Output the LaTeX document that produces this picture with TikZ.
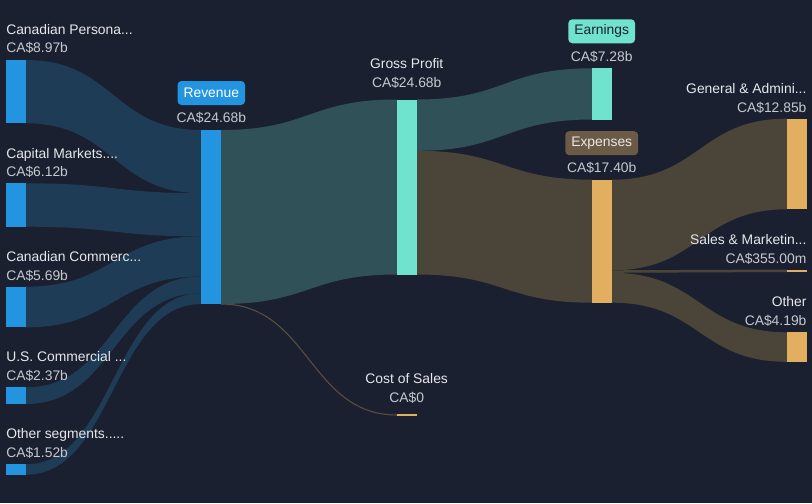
\documentclass[tikz,border=0pt]{standalone}
\usepackage{fontspec}
\setmainfont{Liberation Sans}
\definecolor{bg}{HTML}{1B2030}
\definecolor{bluebar}{HTML}{2394DF}
\definecolor{lflow}{HTML}{1E3C55}
\definecolor{gflow}{HTML}{2F5157}
\definecolor{eflow}{HTML}{4B4539}
\definecolor{tealbar}{HTML}{6FE3CE}
\definecolor{orangebar}{HTML}{E2AE5F}
\definecolor{expbox}{HTML}{6B5A45}
\definecolor{nametext}{HTML}{E6E8EB}
\definecolor{valtext}{HTML}{C5C9CF}
\definecolor{costline}{HTML}{5A4E3E}
\newcommand\sflow[7]{%
  \fill[#7] (#1,#2) .. controls ({(#1+#4)/2},#2) and ({(#1+#4)/2},#5) .. (#4,#5)
    -- (#4,#6) .. controls ({(#1+#4)/2},#6) and ({(#1+#4)/2},#3) .. (#1,#3) -- cycle;}
\newcommand\sbar[5]{%
  \node[fill=#5, inner sep=0pt, outer sep=0pt, minimum width=15pt,
        minimum height={(#4-#3)*0.75pt}, anchor=north west] (#1) at (#2,#3) {};}
\begin{document}
\begin{tikzpicture}[x=0.75pt,y=-0.75pt, font=\fontsize{10.4}{12.5}\selectfont,
  lname/.style={text=nametext, inner sep=0pt},
  lval/.style={text=valtext, inner sep=0pt},
  tagbox/.style={rounded corners=3pt, inner xsep=4.5pt, inner ysep=0pt, minimum height=18pt}]
\fill[bg] (0,0) rectangle (812,503);
\useasboundingbox (0,0) rectangle (812,503);

% flows into revenue
\sflow{26}{60}{123.3}{201}{130}{193.2}{lflow}
\sflow{26}{183.3}{226.7}{201}{193.2}{236.4}{lflow}
\sflow{26}{286.7}{327.3}{201}{236.4}{276.5}{lflow}
\sflow{26}{387.3}{404}{201}{276.5}{293.2}{lflow}
\sflow{26}{464.3}{474.7}{201}{293.2}{304}{lflow}
% revenue -> gross profit
\sflow{221}{130}{304}{397}{99.5}{274.5}{gflow}
% gross profit -> earnings / expenses
\sflow{417}{99.5}{150.8}{592}{68.3}{119.5}{gflow}
\sflow{417}{150.8}{274.5}{592}{179.7}{302.7}{eflow}
% expenses -> right
\sflow{612}{179.7}{270.3}{787}{118.7}{209.3}{eflow}
\sflow{612}{270.3}{272.8}{787}{269.5}{272}{eflow}
\sflow{612}{272.8}{302.7}{787}{332.3}{361.8}{eflow}

% bars
\sbar{cp}{6}{60}{123.3}{bluebar}
\sbar{cm}{6}{183.3}{226.7}{bluebar}
\sbar{cc}{6}{286.7}{327.3}{bluebar}
\sbar{usc}{6}{387.3}{404}{bluebar}
\sbar{os}{6}{464.3}{474.7}{bluebar}
\sbar{rev}{201}{130}{304}{bluebar}
\sbar{gp}{397}{99.5}{274.5}{tealbar}
\sbar{earn}{592}{68.3}{119.5}{tealbar}
\sbar{exp}{592}{179.7}{302.7}{orangebar}
\sbar{ga}{787}{118.7}{209.3}{orangebar}
\sbar{sm}{787}{269.5}{272}{orangebar}
\sbar{oth}{787}{332.3}{361.8}{orangebar}
\coordinate (cos) at (397,415);
\coordinate (cosend) at (417,415);

% cost of sales connector
\draw[costline, line width=0.8pt] (rev.south east) .. controls (309,304) and (309,415) .. (cos);
\draw[orangebar, line width=0.8pt] (cos) -- (cosend);

% left labels
\node[lname, anchor=base west] (l1) at (6,34.5) {Canadian Persona...};
\node[lval, anchor=base west] (v1) at (6,53) {CA\$8.97b};
\node[lname, anchor=base west] (l2) at (6,158) {Capital Markets....};
\node[lval, anchor=base west] (v2) at (6,176.5) {CA\$6.12b};
\node[lname, anchor=base west] (l3) at (6,261.3) {Canadian Commerc...};
\node[lval, anchor=base west] (v3) at (6,280) {CA\$5.69b};
\node[lname, anchor=base west] (l4) at (6,361.8) {U.S. Commercial ...};
\node[lval, anchor=base west] (v4) at (6,380.5) {CA\$2.37b};
\node[lname, anchor=base west] (l5) at (6,438.5) {Other segments.....};
\node[lval, anchor=base west] (v5) at (6,457.3) {CA\$1.52b};

% revenue
\node[tagbox, fill=bluebar, text=white] (revtag) at (211.3,93) {Revenue};
\node[lval, anchor=base] (revval) at (211.3,122.8) {CA\$24.68b};
% gross profit
\node[lname, anchor=base] (gpl) at (406.7,68.5) {Gross Profit};
\node[lval, anchor=base] (gpv) at (406.7,87.5) {CA\$24.68b};
% earnings
\node[tagbox, fill=tealbar, text=bg] (earntag) at (601.7,31.3) {Earnings};
\node[lval, anchor=base] (earnval) at (601.7,61) {CA\$7.28b};
% expenses
\node[tagbox, fill=expbox, text=nametext] (exptag) at (601.7,143.2) {Expenses};
\node[lval, anchor=base] (expval) at (601.7,172.8) {CA\$17.40b};
% cost of sales
\node[lname, anchor=base] (cosl) at (406.7,383.5) {Cost of Sales};
\node[lval, anchor=base] (cosv) at (406.7,402.5) {CA\$0};

% right labels
\node[lname, anchor=base east] (r1) at (806.7,93.5) {General \& Admini...};
\node[lval, anchor=base east] (rv1) at (806.7,112.5) {CA\$12.85b};
\node[lname, anchor=base east] (r2) at (806.7,244.5) {Sales \& Marketin...};
\node[lval, anchor=base east] (rv2) at (806.7,263.5) {CA\$355.00m};
\node[lname, anchor=base east] (r3) at (806.7,306) {Other};
\node[lval, anchor=base east] (rv3) at (806.7,325) {CA\$4.19b};
\end{tikzpicture}
\end{document}
